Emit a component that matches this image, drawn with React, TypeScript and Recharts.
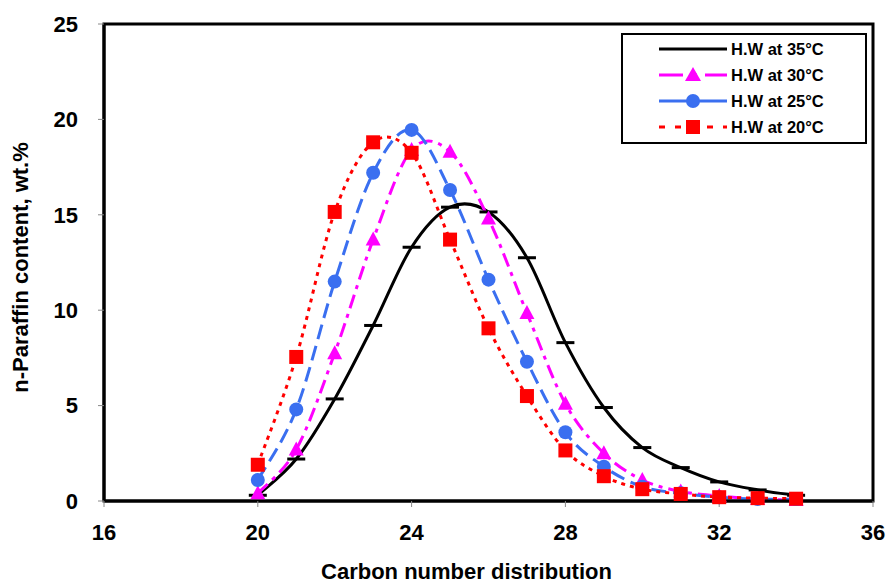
import React from 'react';
import { LineChart, Line, XAxis, YAxis, ReferenceArea, Label } from 'recharts';

const carbon = [20, 21, 22, 23, 24, 25, 26, 27, 28, 29, 30, 31, 32, 33, 34];
const hw35 = [0.3, 2.2, 5.35, 9.2, 13.3, 15.4, 15.15, 12.75, 8.3, 4.9, 2.8, 1.75, 1.0, 0.58, 0.3];
const hw30 = [0.4, 2.7, 7.75, 13.7, 18.4, 18.3, 14.8, 9.85, 5.1, 2.5, 1.1, 0.5, 0.26, 0.1, 0.05];
const hw25 = [1.1, 4.8, 11.5, 17.2, 19.45, 16.3, 11.6, 7.3, 3.6, 1.8, 0.75, 0.4, 0.2, 0.1, 0.1];
const hw20 = [1.9, 7.55, 15.15, 18.8, 18.25, 13.7, 9.05, 5.5, 2.65, 1.3, 0.62, 0.37, 0.2, 0.15, 0.12];

const xTicks = [16, 20, 24, 28, 32, 36];
const yTicks = [0, 5, 10, 15, 20, 25];

const seriesNames = ['H.W at 35°C', 'H.W at 30°C', 'H.W at 25°C', 'H.W at 20°C'];
const xTitle = 'Carbon number distribution';
const yTitle = 'n-Paraffin content, wt.%';

const data = carbon.map((c, i) => ({ c, a: hw35[i], b: hw30[i], d: hw25[i], e: hw20[i] }));

const FONT = '"Liberation Sans", Arial, sans-serif';

// Catmull-Rom style smoothing like Excel "smoothed line"
const smoothCurve: any = (context: any) => {
  let xs: number[] = [];
  let ys: number[] = [];
  return {
    areaStart() {},
    areaEnd() {},
    lineStart() { xs = []; ys = []; },
    point(x: number, y: number) { xs.push(+x); ys.push(+y); },
    lineEnd() {
      const n = xs.length;
      if (!n) return;
      context.moveTo(xs[0], ys[0]);
      if (n === 2) { context.lineTo(xs[1], ys[1]); return; }
      const k = 1 / 6;
      for (let i = 0; i < n - 1; i++) {
        const i0 = Math.max(0, i - 1);
        const i3 = Math.min(n - 1, i + 2);
        const c1x = xs[i] + k * (xs[i + 1] - xs[i0]);
        const c1y = ys[i] + k * (ys[i + 1] - ys[i0]);
        const c2x = xs[i + 1] - k * (xs[i3] - xs[i]);
        const c2y = ys[i + 1] - k * (ys[i3] - ys[i]);
        context.bezierCurveTo(c1x, c1y, c2x, c2y, xs[i + 1], ys[i + 1]);
      }
    },
  };
};

const DashDot = (p: any) => (
  <rect key={`k${p.index}`} x={p.cx - 9} y={p.cy - 1.5} width={18} height={3} fill="#000" />
);
const TriDot = (p: any) => (
  <polygon key={`t${p.index}`} points={`${p.cx},${p.cy - 8} ${p.cx - 7.5},${p.cy + 6} ${p.cx + 7.5},${p.cy + 6}`} fill="#ff00ff" />
);
const CircDot = (p: any) => (
  <circle key={`c${p.index}`} cx={p.cx} cy={p.cy} r={7} fill="#3a6ff0" />
);
const SqDot = (p: any) => (
  <rect key={`s${p.index}`} x={p.cx - 7} y={p.cy - 7} width={14} height={14} fill="#ff0000" />
);

const legendRows = [
  { color: '#000', dash: undefined, marker: 'dash' },
  { color: '#ff00ff', dash: '24 8 6 8', marker: 'tri' },
  { color: '#3a6ff0', dash: undefined, marker: 'circ' },
  { color: '#ff0000', dash: '6 10', marker: 'sq' },
];

const LegendBox = () => (
  <div style={{ position: 'absolute', left: 621, top: 33, width: 242, height: 107, border: '2.5px solid #000', background: '#fff', boxSizing: 'content-box' }}>
    {legendRows.map((r, i) => (
      <div key={i} style={{ display: 'flex', alignItems: 'center', height: 26, marginTop: i === 0 ? 1 : 0 }}>
        <svg width={108} height={20} style={{ display: 'block' }}>
          <line x1={36} x2={104} y1={10} y2={10} stroke={r.color} strokeWidth={3} strokeDasharray={r.dash} />
          {r.marker === 'tri' && <polygon points="70,2 62,16 78,16" fill={r.color} />}
          {r.marker === 'circ' && <circle cx={70} cy={10} r={7} fill={r.color} />}
          {r.marker === 'sq' && <rect x={63} y={3} width={14} height={14} fill={r.color} />}
        </svg>
        <span style={{ fontFamily: FONT, fontWeight: 'bold', fontSize: 16.5, color: '#000', lineHeight: '20px' }}>{seriesNames[i]}</span>
      </div>
    ))}
  </div>
);

const tickStyle = { fill: '#000', fontFamily: FONT, fontWeight: 'bold', fontSize: 22 } as any;

const XTitle = (props: any) => {
  const vb = props.viewBox;
  return (
    <text x={vb.x + vb.width / 2 - 22} y={579} textAnchor="middle" fill="#000" fontFamily={FONT} fontWeight="bold" fontSize={22}>
      {xTitle}
    </text>
  );
};

const YTitle = (props: any) => {
  const vb = props.viewBox;
  const cy = vb.y + vb.height / 2 + 5;
  return (
    <text x={28} y={cy} transform={`rotate(-90 28 ${cy})`} textAnchor="middle" fill="#000" fontFamily={FONT} fontWeight="bold" fontSize={22}>
      {yTitle}
    </text>
  );
};

export default function App() {
  return (
    <div style={{ position: 'absolute', left: 0, top: 0, width: 886, height: 583, background: '#fff' }}>
      <LineChart width={886} height={583} data={data} margin={{ top: 24, right: 13, bottom: 0, left: 0 }}>
        <ReferenceArea x1={16} x2={36} y1={0} y2={25} fill="none" stroke="#000" strokeWidth={3} ifOverflow="visible" />
        <XAxis
          dataKey="c"
          type="number"
          domain={[16, 36]}
          ticks={xTicks}
          height={82}
          axisLine={{ stroke: '#000', strokeWidth: 3 }}
          tickLine={{ stroke: '#888', strokeWidth: 1 }}
          tickSize={6}
          tickMargin={17}
          tick={tickStyle}
        >
          <Label content={XTitle} />
        </XAxis>
        <YAxis
          type="number"
          domain={[0, 25]}
          ticks={yTicks}
          width={104}
          axisLine={{ stroke: '#000', strokeWidth: 3 }}
          tickLine={{ stroke: '#888', strokeWidth: 1 }}
          tickSize={6}
          tickMargin={20}
          tick={tickStyle}
        >
          <Label content={YTitle} />
        </YAxis>
        <Line dataKey="a" name={seriesNames[0]} type={smoothCurve} stroke="#000" strokeWidth={3} dot={DashDot} activeDot={false} isAnimationActive={false} />
        <Line dataKey="b" name={seriesNames[1]} type={smoothCurve} stroke="#ff00ff" strokeWidth={3} strokeDasharray="14 6 4 6" dot={TriDot} activeDot={false} isAnimationActive={false} />
        <Line dataKey="d" name={seriesNames[2]} type={smoothCurve} stroke="#3a6ff0" strokeWidth={3} strokeDasharray="15 7" dot={CircDot} activeDot={false} isAnimationActive={false} />
        <Line dataKey="e" name={seriesNames[3]} type={smoothCurve} stroke="#ff0000" strokeWidth={3} strokeDasharray="4 5" dot={SqDot} activeDot={false} isAnimationActive={false} />
      </LineChart>
      <LegendBox />
    </div>
  );
}
